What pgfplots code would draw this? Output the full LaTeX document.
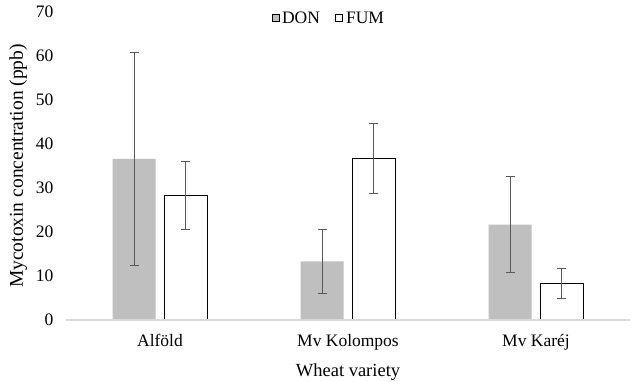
\documentclass[border=0pt]{standalone}
\usepackage{pgfplots}
\pgfplotsset{compat=1.18}
\usepackage{fontspec}
\setmainfont{Liberation Serif}
\definecolor{dongray}{HTML}{BFBFBF}
\definecolor{errgray}{HTML}{595959}
\definecolor{axgray}{HTML}{D9D9D9}
\newcommand{\chartfont}{\fontsize{17.5bp}{21bp}\selectfont}
\begin{document}
\begin{tikzpicture}
\begin{axis}[
  name=ax,
  scale only axis,
  width=564bp, height=308bp,
  xmin=-0.5, xmax=2.5,
  ymin=0, ymax=70,
  ytick={0,10,...,70},
  xtick={0,1,2},
  xticklabels={Alföld, Mv Kolompos, Mv Karéj},
  major tick length=0pt,
  axis on top,
  axis x line*=bottom,
  axis y line*=left,
  x axis line style={draw=axgray, line width=1.2pt, -},
  y axis line style={draw=none},
  /pgf/number format/assume math mode=true,
  tick label style={font=\chartfont},
  yticklabel style={xshift=-9bp},
  xticklabel style={yshift=-11bp},
  ylabel={Mycotoxin concentration (ppb)},
  xlabel={Wheat variety},
  ylabel style={font=\fontsize{19.5bp}{23bp}\selectfont, yshift=2bp},
  xlabel style={font=\fontsize{18.5bp}{22bp}\selectfont, yshift=-6bp},
  clip=false,
]
\addplot[ybar, bar width=43bp, bar shift=0pt, fill=dongray, draw=none,
  error bars/.cd, y dir=both, y explicit,
  error bar style={color=errgray, line width=0.9pt},
  error mark options={rotate=90, mark size=4.5bp, line width=0.9pt, color=errgray}]
  coordinates {
    (-0.138,36.6) +- (0,24.3)
    (0.862,13.3) +- (0,7.2)
    (1.862,21.7) +- (0,10.9)
  };
\addplot[ybar, bar width=43bp, bar shift=0pt, fill=white, draw=black, line width=1.1pt,
  error bars/.cd, y dir=both, y explicit,
  error bar style={color=errgray, line width=0.9pt},
  error mark options={rotate=90, mark size=4.5bp, line width=0.9pt, color=errgray}]
  coordinates {
    (0.138,28.3) +- (0,7.8)
    (1.138,36.7) +- (0,7.9)
    (2.138,8.3) +- (0,3.4)
  };
\end{axis}
\begin{axis}[
  scale only axis, width=564bp, height=308bp, at={(ax.south west)},
  hide axis, xmin=0, xmax=1, ymin=0, ymax=1,
  legend style={draw=none, fill=none, at={(rel axis cs:0.466,0.98)}, anchor=center,
    legend columns=2, font=\chartfont,
    /tikz/every even column/.append style={column sep=13bp},
    /tikz/every odd column/.append style={column sep=1bp}},
  legend image code/.code={\draw[#1] (0bp,-3.5bp) rectangle (7bp,3.5bp);},
]
\addlegendimage{fill=dongray, draw=none}
\addlegendentry{DON}
\addlegendimage{fill=white, draw=black, line width=1.1pt}
\addlegendentry{FUM}
\end{axis}
\pgfresetboundingbox
\path[use as bounding box] ([xshift=-66bp,yshift=-62bp]ax.south west) rectangle ([xshift=8bp,yshift=12bp]ax.north east);
\end{tikzpicture}
\end{document}
